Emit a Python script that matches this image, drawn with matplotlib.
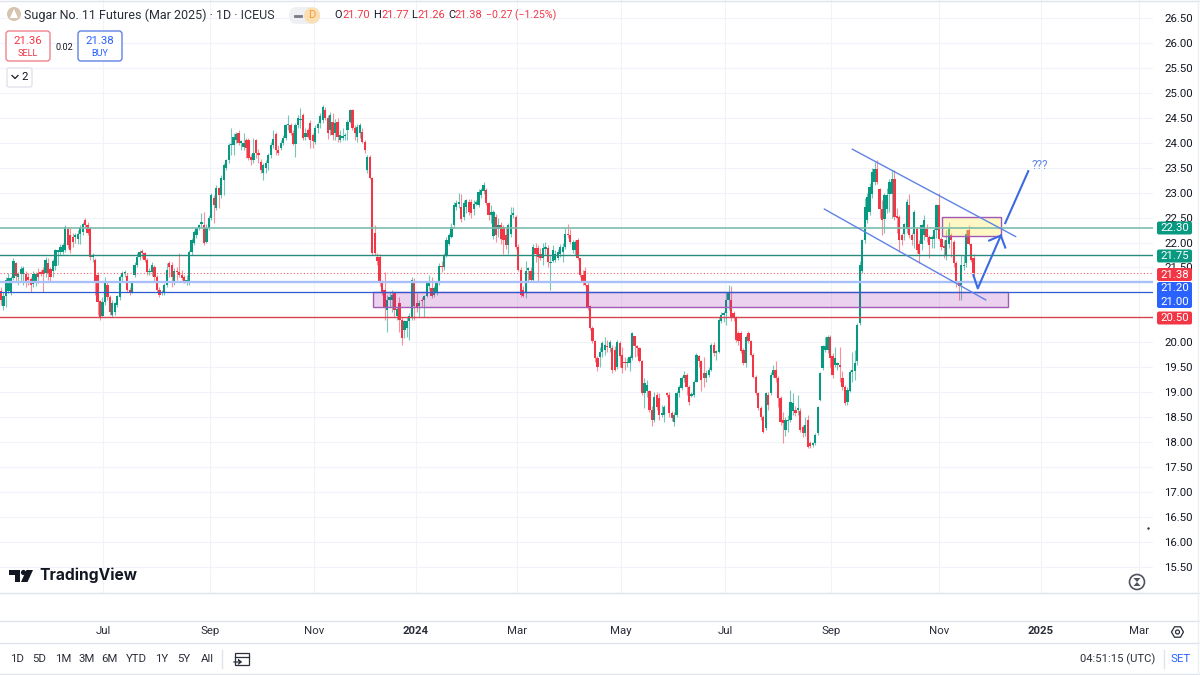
import matplotlib
matplotlib.use("Agg")
import matplotlib.pyplot as plt
import matplotlib.patches as patches
import numpy as np

plt.rcParams["font.family"] = ["Roboto", "DejaVu Sans"]

# daily bars
opens = [
    21.02, 20.72, 20.92, 21.02, 20.98, 21.28, 21.58, 21.30, 21.36, 21.36,
    21.36, 21.30, 21.26, 21.16, 21.22, 21.38, 21.40, 21.44, 21.38, 21.58,
    21.46, 21.42, 21.52, 21.82, 21.82, 21.82, 21.85, 22.28, 22.15, 22.12,
    22.12, 22.08, 22.18, 22.22, 22.45, 22.35, 22.30, 21.72, 21.65, 21.35,
    20.82, 20.52, 20.80, 21.15, 20.90, 20.55, 20.60, 20.75, 20.90, 21.30,
    21.38, 21.32, 21.05, 21.00, 21.35, 21.55, 21.72, 21.82, 21.80, 21.65,
    21.40, 21.40, 21.50, 21.30, 21.05, 20.98, 21.00, 21.15, 21.58, 21.55,
    21.20, 21.42, 21.40, 21.35, 21.30, 21.18, 21.20, 21.82, 22.00, 22.15,
    22.30, 22.38, 22.35, 22.02, 22.30, 22.50, 22.90, 22.70, 23.10, 22.95,
    23.25, 23.50, 23.65, 23.95, 23.95, 24.05, 24.20, 24.00, 23.92, 24.05,
    24.05, 23.72, 23.65, 24.05, 23.80, 23.62, 23.40, 23.50, 23.60, 23.75,
    23.95, 24.18, 23.85, 23.90, 24.00, 24.10, 24.35, 24.35, 24.20, 23.98,
    24.35, 24.45, 24.56, 24.12, 24.25, 24.39, 24.15, 24.02, 24.29, 24.39, 24.46,
    24.66, 24.50, 24.25, 24.42, 24.19, 24.42, 24.05, 24.10, 24.13, 24.25,
    24.42, 24.65, 24.30, 24.12, 24.19, 24.22, 24.02, 23.45, 23.72, 23.30,
    22.20, 21.72, 21.72, 21.18, 21.05, 20.65, 20.85, 20.85, 20.99, 20.52, 20.78,
    20.45, 20.25, 20.28, 20.42, 20.48, 21.22, 20.78, 20.72, 20.85, 20.85,
    20.92, 21.12, 21.08, 20.95, 20.98, 21.18, 21.52, 21.50, 21.75, 21.98,
    22.12, 22.35, 22.72, 22.78, 22.72, 22.52, 22.72, 22.82, 22.82, 22.68,
    22.78, 22.75, 22.95, 23.03, 23.05, 22.80, 22.55, 22.13, 22.52, 22.27,
    22.36, 22.32, 22.15, 21.95, 22.18, 22.55, 22.52, 21.92, 21.45, 21.05,
    20.98, 21.45, 21.42, 21.25, 21.90, 21.90, 21.78, 21.70, 21.88, 21.90,
    21.58, 21.62, 21.65, 21.70, 21.78, 21.82, 21.92, 22.18, 22.15, 21.85,
    21.85, 22.05, 21.68, 21.35, 21.42, 21.15, 20.72, 20.28, 20.02, 19.68,
    19.71, 19.81, 19.85, 19.93, 19.88, 19.88, 19.85, 19.51, 19.98, 19.75,
    19.60, 19.58, 19.58, 19.68, 20.12, 19.92, 19.88, 19.62, 18.98, 19.02,
    19.02, 18.65, 18.45, 18.95, 18.88, 18.55, 18.55, 18.97, 18.95, 18.58,
    18.41, 18.55, 18.98, 19.08, 19.28, 19.35, 19.11, 18.93, 18.95, 19.21,
    19.72, 19.62, 19.38, 19.28, 19.35, 19.45, 19.95, 19.78, 19.80, 20.42,
    20.55, 20.58, 20.85, 20.85, 20.58, 20.48, 20.18, 20.18,
    19.85, 19.58, 20.18, 20.02, 19.75, 19.31, 18.98, 18.68, 18.51, 18.28,
    18.95, 18.98, 19.35, 19.45, 19.28, 18.88, 18.45, 18.24, 18.42, 18.45,
    18.62, 18.65, 18.65, 18.62, 18.30, 18.18, 18.45, 17.98, 17.95, 17.98,
    18.18, 18.85, 19.48, 19.85, 19.85, 20.11, 19.72, 19.55, 19.55, 19.55,
    19.28, 19.11, 18.80, 19.02, 19.41, 19.42, 19.62, 20.38, 21.42, 22.05,
    22.45, 22.62, 22.98, 23.22, 23.48, 23.08, 22.68, 22.48, 22.68, 22.98,
    22.98, 23.28, 22.52, 22.52, 22.15, 22.18, 22.28, 22.75, 22.15, 22.18,
    22.28, 21.98, 21.98, 22.15, 22.28, 22.12, 22.08, 22.08, 22.25, 22.75,
    22.08, 21.92, 21.75, 21.98, 22.15, 22.02, 21.58, 21.18, 21.15, 21.52,
    21.58, 22.25, 21.98, 21.70,
]
closes = [
    20.84, 20.92, 21.25, 21.28, 21.28, 21.62, 21.32, 21.36, 21.46, 21.48,
    21.22, 21.24, 21.15, 21.36, 21.36, 21.30, 21.37, 21.37, 21.65, 21.38,
    21.30, 21.62, 21.85, 21.82, 21.92, 21.95, 22.31, 21.95, 21.85, 22.02,
    22.12, 22.18, 22.32, 22.38, 22.35, 22.20, 21.72, 21.72, 21.20, 20.80,
    20.50, 20.80, 21.18, 20.90, 20.60, 20.78, 20.78, 20.92, 21.30, 21.38,
    21.40, 21.05, 21.00, 21.20, 21.55, 21.72, 21.82, 21.80, 21.65, 21.40,
    21.40, 21.55, 21.30, 21.05, 20.95, 20.98, 21.15, 21.45, 21.50, 21.30,
    21.42, 21.40, 21.35, 21.28, 21.20, 21.25, 21.82, 22.05, 22.22, 22.30,
    22.35, 22.38, 22.00, 22.30, 22.50, 22.95, 22.75, 23.10, 22.95, 23.30,
    23.55, 23.65, 23.95, 23.98, 24.12, 24.18, 24.00, 24.00, 24.00, 23.90,
    23.70, 23.65, 23.80, 23.80, 23.75, 23.45, 23.55, 23.60, 23.75, 23.95,
    24.08, 23.85, 23.80, 24.00, 24.10, 24.35, 24.38, 24.20, 23.98, 24.35,
    24.50, 24.48, 24.09, 24.20, 24.12, 24.05, 24.03, 24.29, 24.38, 24.53, 24.72,
    24.50, 24.19, 24.55, 24.15, 24.39, 24.12, 24.15, 24.12, 24.15, 24.42,
    24.65, 24.30, 24.20, 24.32, 24.35, 24.02, 23.85, 23.72, 23.30, 21.80,
    21.80, 21.62, 21.18, 20.98, 20.68, 20.85, 20.90, 20.95, 20.65, 20.67, 20.45,
    20.08, 20.42, 20.42, 20.52, 21.25, 20.72, 20.68, 20.78, 20.82, 20.92,
    21.18, 21.22, 20.92, 21.08, 21.18, 21.52, 21.50, 21.75, 22.05, 22.15,
    22.32, 22.75, 22.79, 22.82, 22.48, 22.79, 22.85, 22.62, 22.60, 22.78,
    22.80, 23.02, 23.05, 23.15, 22.80, 22.55, 22.62, 22.62, 22.15, 22.35,
    22.08, 22.05, 21.95, 22.35, 22.55, 22.60, 21.92, 21.45, 20.95, 20.92,
    21.42, 21.45, 21.25, 21.92, 21.77, 21.72, 21.70, 21.90, 21.90, 21.60,
    21.60, 21.85, 21.78, 21.82, 21.92, 21.92, 22.18, 22.15, 22.02, 22.02,
    22.02, 21.68, 21.35, 21.22, 21.15, 20.68, 20.28, 20.02, 19.68, 19.51,
    19.81, 19.98, 19.95, 19.90, 20.01, 19.45, 19.45, 20.01, 19.72, 19.48,
    19.58, 19.60, 19.71, 20.18, 19.92, 19.88, 19.62, 18.98, 19.18, 19.15,
    18.65, 18.45, 18.91, 18.70, 18.55, 18.55, 18.71, 18.95, 18.58, 18.48,
    18.55, 18.98, 19.11, 19.28, 19.35, 19.11, 18.81, 18.95, 19.21, 19.75,
    19.62, 19.25, 19.28, 19.38, 19.45, 19.95, 19.78, 19.82, 20.45, 20.55,
    20.58, 20.85, 20.98, 20.48, 20.48, 20.05, 20.02, 19.82,
    19.58, 20.11, 20.02, 19.75, 19.31, 18.98, 18.68, 18.51, 18.21, 18.98,
    18.75, 19.35, 19.45, 19.28, 18.88, 18.41, 18.38, 18.45, 18.45, 18.81,
    18.78, 18.58, 18.68, 18.25, 18.18, 18.35, 17.91, 17.92, 17.98, 18.15,
    18.71, 19.38, 19.92, 19.92, 20.11, 19.68, 19.35, 19.68, 19.58, 19.50,
    19.11, 18.78, 19.05, 19.41, 19.42, 19.58, 20.35, 21.55, 22.05, 22.72,
    22.92, 23.12, 23.42, 23.48, 23.22, 22.68, 22.45, 22.95, 22.95, 23.22,
    23.28, 22.52, 22.50, 22.05, 22.05, 22.38, 22.82, 22.15, 22.05, 22.62,
    21.85, 21.78, 22.35, 22.45, 22.12, 21.95, 22.10, 22.25, 22.75, 22.08,
    21.92, 21.90, 22.05, 22.28, 22.05, 21.58, 21.18, 21.12, 21.55, 21.55,
    22.18, 21.98, 21.65, 21.38,
]
highs = [
    21.10, 21.00, 21.30, 21.38, 21.32, 21.68, 21.60, 21.40, 21.52, 21.52,
    21.42, 21.38, 21.30, 21.42, 21.40, 21.48, 21.45, 21.50, 21.72, 21.70,
    21.50, 21.66, 21.88, 21.85, 21.98, 22.00, 22.35, 22.32, 22.30, 22.20,
    22.20, 22.25, 22.36, 22.42, 22.50, 22.42, 22.32, 21.80, 21.68, 21.40,
    20.85, 20.90, 21.30, 21.20, 20.95, 20.85, 20.80, 20.95, 21.35, 21.42,
    21.45, 21.38, 21.10, 21.22, 21.60, 21.80, 21.85, 21.88, 21.82, 21.70,
    21.48, 21.60, 21.55, 21.35, 21.10, 21.05, 21.18, 21.58, 21.62, 21.60,
    21.48, 21.50, 21.80, 21.45, 21.35, 21.35, 21.85, 22.10, 22.25, 22.32,
    22.38, 22.60, 22.62, 22.38, 22.55, 23.00, 22.95, 23.15, 23.12, 23.35,
    23.60, 23.68, 24.00, 24.30, 24.20, 24.22, 24.25, 24.05, 24.20, 24.10,
    24.10, 23.78, 24.10, 24.08, 23.88, 23.68, 23.60, 23.65, 23.80, 24.02,
    24.25, 24.22, 23.95, 24.05, 24.15, 24.38, 24.55, 24.40, 24.25, 24.40,
    24.55, 24.70, 24.60, 24.30, 24.30, 24.45, 24.20, 24.35, 24.42, 24.60, 24.76,
    24.72, 24.55, 24.62, 24.60, 24.48, 24.50, 24.25, 24.30, 24.20, 24.45,
    24.68, 24.68, 24.35, 24.38, 24.40, 24.30, 24.05, 23.75, 23.75, 23.32,
    22.35, 21.80, 21.78, 21.25, 21.40, 20.95, 21.00, 21.05, 21.00, 20.70, 20.90,
    20.50, 20.45, 20.50, 20.58, 21.30, 21.28, 20.98, 20.85, 20.90, 20.95,
    21.22, 21.35, 21.30, 21.12, 21.22, 21.58, 21.62, 21.80, 22.12, 22.20,
    22.40, 22.82, 22.85, 23.00, 22.98, 22.85, 22.88, 22.88, 22.88, 22.85,
    22.85, 23.08, 23.10, 23.22, 23.10, 22.82, 22.75, 22.65, 22.58, 22.50,
    22.42, 22.35, 22.30, 22.40, 22.72, 22.72, 22.55, 21.98, 21.50, 21.12,
    21.62, 21.50, 21.50, 21.98, 22.00, 21.95, 21.90, 22.00, 22.02, 21.95,
    21.75, 21.95, 21.85, 21.88, 21.98, 22.00, 22.30, 22.38, 22.28, 22.05,
    22.05, 22.10, 21.70, 21.45, 21.50, 21.20, 20.75, 20.32, 20.05, 19.72,
    19.90, 20.02, 20.10, 20.05, 20.05, 19.95, 19.92, 20.05, 20.02, 19.90,
    19.70, 19.68, 19.75, 20.20, 20.12, 19.95, 19.90, 19.65, 19.28, 19.25,
    19.05, 18.72, 19.00, 19.00, 18.98, 18.75, 18.75, 19.00, 19.00, 18.62,
    18.60, 19.02, 19.15, 19.32, 19.42, 19.38, 19.15, 19.00, 19.25, 19.78,
    19.75, 19.65, 19.70, 19.45, 19.50, 19.98, 20.00, 19.85, 20.50, 20.60,
    20.62, 21.00, 21.15, 21.12, 20.62, 20.52, 20.22, 20.22,
    19.88, 20.15, 20.22, 20.05, 19.78, 19.35, 19.00, 18.72, 18.55, 19.00,
    19.00, 19.40, 19.55, 19.62, 19.32, 18.92, 18.60, 18.50, 18.55, 19.05,
    18.98, 18.72, 18.95, 18.68, 18.35, 18.50, 18.55, 18.02, 18.00, 18.18,
    18.72, 19.40, 19.95, 20.10, 20.15, 20.15, 19.78, 19.90, 19.60, 19.90,
    19.42, 19.15, 19.10, 19.45, 19.80, 19.85, 20.38, 21.62, 22.08, 22.90,
    23.00, 23.20, 23.50, 23.62, 23.65, 23.10, 22.85, 23.00, 23.10, 23.28,
    23.45, 23.45, 22.70, 22.55, 22.20, 22.40, 22.88, 22.98, 22.20, 22.65,
    22.32, 22.05, 22.38, 22.55, 22.38, 22.15, 22.15, 22.30, 22.78, 23.00,
    22.12, 22.05, 22.25, 22.42, 22.20, 22.05, 21.62, 21.20, 21.75, 21.75,
    22.25, 22.35, 22.00, 21.77,
]
lows = [
    20.75, 20.65, 20.70, 20.98, 20.95, 21.25, 21.20, 21.15, 21.20, 21.15,
    21.10, 21.15, 21.00, 21.10, 21.12, 21.18, 21.32, 21.00, 21.30, 21.25,
    21.20, 21.30, 21.45, 21.55, 21.75, 21.78, 21.82, 21.90, 21.80, 21.92,
    22.00, 21.98, 21.98, 22.15, 22.30, 22.15, 21.65, 21.60, 20.95, 20.55,
    20.45, 20.50, 20.75, 20.85, 20.55, 20.50, 20.55, 20.70, 20.85, 21.20,
    21.30, 21.00, 20.95, 20.98, 21.30, 21.50, 21.65, 21.70, 21.60, 21.35,
    21.35, 21.32, 21.20, 21.00, 20.90, 20.95, 20.95, 21.10, 21.30, 21.10,
    21.15, 21.25, 21.30, 21.25, 21.18, 21.15, 21.15, 21.75, 21.95, 22.10,
    22.25, 22.30, 21.95, 22.00, 22.25, 22.45, 22.40, 22.65, 22.70, 22.90,
    22.95, 23.45, 23.60, 23.75, 23.75, 24.00, 23.95, 23.85, 23.85, 23.70,
    23.65, 23.55, 23.60, 23.70, 23.60, 23.40, 23.25, 23.40, 23.45, 23.70,
    23.90, 23.75, 23.75, 23.85, 23.95, 24.05, 24.25, 24.15, 23.95, 23.72,
    24.30, 24.30, 24.05, 24.05, 24.10, 23.90, 23.90, 23.98, 24.20, 24.30, 24.40,
    24.45, 24.07, 24.15, 24.05, 24.05, 24.02, 24.02, 24.05, 24.05, 24.05,
    24.40, 24.25, 24.05, 24.02, 24.10, 24.00, 23.80, 23.40, 23.28, 21.75,
    21.75, 21.55, 21.12, 20.95, 20.45, 20.20, 20.70, 20.60, 20.50, 20.45, 20.20,
    19.95, 20.08, 20.10, 20.05, 20.45, 20.45, 20.60, 20.50, 20.72, 20.50,
    20.90, 21.05, 20.88, 20.90, 20.95, 21.15, 21.40, 21.45, 21.72, 21.95,
    22.10, 22.30, 22.65, 22.70, 22.42, 22.45, 22.60, 22.55, 22.50, 22.55,
    22.75, 22.72, 22.90, 22.98, 22.75, 22.45, 22.40, 22.08, 22.02, 22.12,
    21.98, 21.78, 21.88, 21.78, 22.12, 22.50, 21.88, 21.42, 20.90, 20.90,
    20.88, 21.20, 21.22, 21.22, 21.60, 21.20, 21.65, 21.55, 21.75, 21.50,
    21.05, 21.60, 21.60, 21.65, 21.72, 21.60, 21.88, 22.10, 21.98, 21.80,
    21.75, 21.65, 21.30, 21.15, 21.12, 20.65, 20.25, 19.98, 19.60, 19.43,
    19.50, 19.70, 19.75, 19.80, 19.80, 19.38, 19.42, 19.47, 19.50, 19.38,
    19.45, 19.50, 19.42, 19.65, 19.70, 19.72, 19.60, 18.95, 18.68, 18.90,
    18.60, 18.33, 18.40, 18.65, 18.45, 18.50, 18.40, 18.90, 18.50, 18.42,
    18.33, 18.50, 18.90, 19.05, 19.20, 18.95, 18.75, 18.90, 18.90, 19.20,
    19.50, 19.02, 19.10, 19.20, 19.30, 19.42, 19.72, 19.65, 19.78, 20.38,
    20.40, 20.35, 20.65, 20.42, 20.42, 20.00, 19.95, 19.78,
    19.55, 19.50, 19.98, 19.72, 19.28, 18.95, 18.65, 18.45, 18.18, 18.25,
    18.65, 18.95, 19.30, 19.20, 18.70, 18.35, 17.98, 18.12, 18.20, 18.40,
    18.55, 18.52, 18.55, 18.20, 18.10, 18.12, 17.88, 17.88, 17.90, 17.95,
    18.15, 18.82, 19.45, 19.80, 19.78, 19.50, 19.28, 19.50, 19.45, 19.20,
    19.05, 18.75, 18.75, 19.00, 19.20, 19.25, 19.55, 20.35, 21.38, 22.00,
    22.40, 22.55, 22.90, 23.15, 23.18, 22.50, 22.15, 22.20, 22.60, 22.62,
    22.50, 22.45, 22.20, 21.82, 21.95, 22.05, 22.20, 22.10, 21.95, 21.90,
    21.80, 21.58, 21.85, 22.05, 22.02, 21.70, 21.90, 21.90, 22.10, 22.05,
    21.85, 21.70, 21.65, 21.90, 21.72, 21.50, 21.10, 20.85, 20.85, 21.45,
    21.50, 21.95, 21.60, 21.26,
]

month_labels = ["Jul", "Sep", "Nov", "2024", "Mar", "May", "Jul", "Sep", "Nov", "2025", "Mar"]
month_bars = [41.2, 84.4, 126.5, 167.7, 208.5, 250.5, 292.5, 335.4, 379, 420.2, 459.8]
price_ticks = [15.5 + 0.5 * k for k in range(23)]

UP = "#089981"
DOWN = "#f23645"
GRID = "#f0f3fa"
INK = "#131722"
BLUE = "#2962ff"

fig = plt.figure(figsize=(12, 6.75), dpi=100, facecolor="white")
ax = fig.add_axes([0, 82 / 675, 1153 / 1200, 593 / 675])
ax.set_xlim(-0.4, 465.5)
ax.set_ylim(14.977, 26.86)
for s in ax.spines.values():
    s.set_visible(False)

ax.yaxis.tick_right()
ax.set_yticks(price_ticks)
# 21.00 and 20.50 sit fully behind the price tags
ax.set_yticklabels(["" if p in (20.5, 21.0) else "%.2f" % p for p in price_ticks])
ax.set_xticks(month_bars)
ax.set_xticklabels(month_labels)
ax.tick_params(axis="y", length=0, pad=8, labelsize=8.2, labelcolor=INK)
ax.tick_params(axis="x", length=0, pad=24, labelsize=8.2, labelcolor="#2a2e39")
for lab in ax.get_xticklabels():
    if lab.get_text() in ("2024", "2025"):
        lab.set_fontweight("bold")
ax.grid(True, color=GRID, lw=0.8)
ax.set_axisbelow(True)

# candles
idx = np.arange(len(closes))
o = np.array(opens)
c = np.array(closes)
colors = [UP if a >= b else DOWN for a, b in zip(c, o)]
ax.vlines(idx, lows, highs, colors=colors, lw=0.8, alpha=0.55, zorder=2)
ax.bar(idx, np.maximum(np.abs(c - o), 0.03), bottom=np.minimum(o, c), width=0.92,
       color=colors, linewidth=0, zorder=3)

# zones
ax.add_patch(patches.Rectangle((150.3, 20.70), 256.6, 0.30, facecolor=(0.61, 0.15, 0.69, 0.2),
                               edgecolor="#a35ab5", lw=1, zorder=4))
ax.add_patch(patches.Rectangle((380.1, 22.14), 23.9, 0.37, facecolor=(1.0, 0.92, 0.35, 0.35),
                               edgecolor="#a35ab5", lw=1, zorder=4))

# horizontal levels
ax.axhline(22.30, color="#7fbcae", lw=1.2, zorder=5)
ax.axhline(21.75, color="#2a8a7c", lw=1.0, zorder=5)
ax.axhline(21.38, color=DOWN, lw=0.8, ls=(0, (1, 2)), alpha=0.8, zorder=5)
ax.axhline(21.20, color="#a9bff7", lw=1.7, zorder=5)
ax.axhline(21.00, color="#2f5bd0", lw=0.9, zorder=5)
ax.axhline(20.50, color="#d8434f", lw=1.0, zorder=5)

# channel and arrows
CH = "#5f83e6"
ax.plot([344.0, 410.0], [23.87, 22.12], color=CH, lw=1, zorder=6)
ax.plot([332.7, 397.9], [22.67, 20.85], color=CH, lw=1, zorder=6)
AR = "#3a69e2"
ax.plot([392.9, 394.7, 404.0], [21.35, 21.08, 22.14], color=AR, lw=1.5, zorder=6)
ax.plot([399.3, 404.0, 405.8], [22.04, 22.14, 21.90], color=AR, lw=1.5, zorder=6)
ax.plot([405.8, 415.1], [22.39, 23.43], color=AR, lw=1.5, zorder=6)
ax.text(416.6, 23.55, "???", color=CH, fontsize=8.5, ha="left", va="center", zorder=6)
ax.plot([463.4], [16.28], marker=".", ms=1.5, color="#333333")

# everything outside the plot scales goes on a pixel overlay
ov = fig.add_axes([0, 0, 1, 1])
ov.set_xlim(0, 1200)
ov.set_ylim(675, 0)
ov.axis("off")
ov.patch.set_visible(False)


def label(x, y, s, color=INK, size=8.2, ha="left", weight="normal", **kw):
    ov.text(x, y, s, color=color, fontsize=size, ha=ha, va="center", fontweight=weight, **kw)


def box(x0, y0, x1, y1, fc="white", ec="none", lw=1, rad=2):
    ov.add_patch(patches.FancyBboxPatch((x0, y0), x1 - x0, y1 - y0,
                                        boxstyle="round,pad=0,rounding_size=%g" % rad,
                                        fc=fc, ec=ec, lw=lw))


# panel rules
for yy in (1, 593, 621, 643, 674):
    ov.plot([0, 1200], [yy, yy], color="#e0e3eb", lw=1)
ov.plot([1198, 1198], [0, 675], color="#eef0f4", lw=1)

# price tags
tags = [("22.30", 228, UP), ("21.75", 256, UP), ("21.38", 274.5, DOWN), ("20.50", 318, DOWN)]
for txt, yy, col in tags:
    box(1157, yy - 6.5, 1192, yy + 6.5, fc=col)
    label(1174.5, yy, txt, color="white", ha="center")
box(1157, 282, 1192, 308, fc=BLUE)
label(1174.5, 288, "21.20", color="white", ha="center")
label(1174.5, 302, "21.00", color="white", ha="center")

# header
ov.add_patch(patches.Circle((14, 14), 7, fc="#d5c4b0", ec="none"))
ov.add_patch(patches.Polygon([[10, 18], [14, 9], [18, 18]], fc="white", ec="none"))
label(24, 15, "Sugar No. 11 Futures (Mar 2025) · 1D · ICEUS", size=9.0, color="#2a2e39")
box(289, 7, 320, 24, fc="#eef0f3", rad=8)
ov.add_patch(patches.Circle((312, 15.5), 8, fc="#fbdfb3", ec="none"))
ov.plot([295, 301], [15.5, 15.5], color="#787b86", lw=2)
label(312, 15.5, "D", color="#f29d38", size=8, ha="center")

label(334, 15, "O", size=7.9)
label(342, 15, "21.70", color=DOWN, size=7.9)
label(373, 15, "H", size=7.9)
label(381, 15, "21.77", color=DOWN, size=7.9)
label(411, 15, "L", size=7.9)
label(417, 15, "21.26", color=DOWN, size=7.9)
label(448, 15, "C", size=7.9)
label(454, 15, "21.38", color=DOWN, size=7.9)
label(486, 15, "−0.27 (−1.25%)", color=DOWN, size=7.6)

box(6, 31, 50, 61, ec="#f0828c", rad=3)
label(28, 41, "21.36", color=DOWN, size=8.2, ha="center")
label(28, 53, "SELL", color=DOWN, size=6.6, ha="center")
label(64, 47, "0.02", size=6.6, ha="center")
box(78, 31, 122, 61, ec="#5f83e6", rad=3)
label(100, 41, "21.38", color=BLUE, size=8.2, ha="center")
label(100, 53, "BUY", color=BLUE, size=6.6, ha="center")
box(7, 68, 32, 87, ec="#e0e3eb", rad=2)
ov.plot([12, 15, 18], [75.5, 78.5, 75.5], color=INK, lw=0.9)
label(25, 77.5, "2", size=8.2, ha="center")

# logo
ov.add_patch(patches.Polygon([[9, 570], [20, 570], [20, 582], [14.5, 582], [14.5, 575], [9, 575]], fc=INK, ec="none"))
ov.add_patch(patches.Circle((23.5, 572.5), 2.6, fc=INK, ec="none"))
ov.add_patch(patches.Polygon([[26.5, 570], [33, 570], [27.5, 582], [21, 582]], fc=INK, ec="none"))
label(39, 575.5, "TradingView", size=11.2, weight="bold", family=["Inter", "DejaVu Sans"])

# hourglass badge
ov.add_patch(patches.Circle((1137, 582), 7.5, fc="white", ec="#50535e", lw=1.2))
ov.add_patch(patches.Polygon([[1133.5, 578], [1140.5, 578], [1137, 582], [1140.5, 586], [1133.5, 586], [1137, 582]],
                             fc="#50535e", ec="none"))

# bottom bar
range_labels = ["1D", "5D", "1M", "3M", "6M", "YTD", "1Y", "5Y", "All"]
range_x = [17, 39, 63, 87, 109, 136, 162, 184, 207]
for xx, txt in zip(range_x, range_labels):
    label(xx, 659, txt, ha="center", size=8.2, color="#2a2e39")
ov.plot([222, 222], [650, 668], color="#e0e3eb", lw=1)
ov.add_patch(patches.Rectangle((235, 653), 14, 12, fc="none", ec="#2a2e39", lw=0.9))
ov.plot([235, 249], [657, 657], color="#2a2e39", lw=0.9)
ov.plot([234, 241, 238.5, 241, 238.5], [662, 662, 660, 662, 664], color="#2a2e39", lw=0.9)
label(1155, 659, "04:51:15 (UTC)", ha="right", size=8.15, color="#2a2e39")
ov.plot([1164, 1164], [650, 668], color="#e0e3eb", lw=1)
label(1181, 659, "SET", ha="center", size=8.2, color=BLUE)

# settings icon
ov.add_patch(patches.RegularPolygon((1177.5, 632), 6, radius=6, orientation=np.pi / 2, fc="none", ec="#2a2e39", lw=0.9))
ov.add_patch(patches.Circle((1177.5, 632), 2, fc="none", ec="#2a2e39", lw=0.9))

fig.savefig("out.png", dpi=100)
